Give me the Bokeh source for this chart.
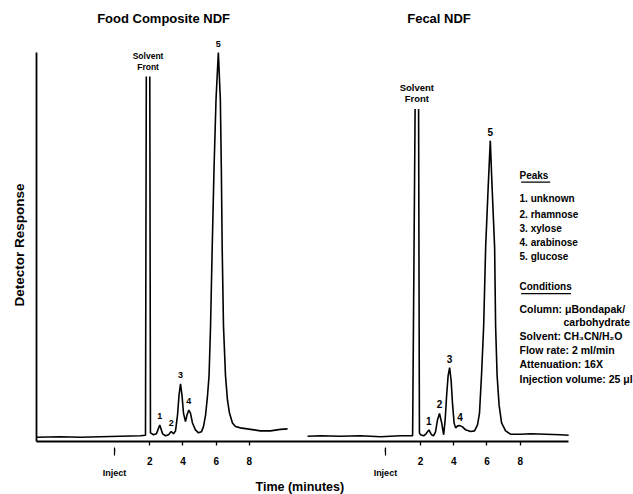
import math
from bokeh.plotting import figure
from bokeh.models import (Range1d, FixedTicker, Arrow, NormalHead, CustomJSTickFormatter,
                          LinearAxis, Title)
from bokeh.core.properties import value
from bokeh.embed import file_html
from bokeh.resources import INLINE

nan = float("nan")
FONT = "Liberation Sans"

# ---------------- data (time in minutes, detector response in arbitrary units) -------------
TITLES = ["Food Composite NDF", "Fecal NDF"]
TITLE_T = [2.83, 3.11]

LEFT_T = [-4.82, -3.38, -2.17, -0.97, 0.24, 1.44, 1.74, 1.79, nan, 2.00, 2.04,
          2.22, 2.40, 2.60, 2.77, 2.95, 3.13, 3.29, 3.43, 3.55, 3.67, 3.76, 3.85, 3.94,
          4.03, 4.15, 4.24, 4.35, 4.45, 4.57, 4.75, 4.93,
          5.11, 5.23, 5.36, 5.48, 5.57, 5.66, 5.76, 5.87, 5.99, 6.13,
          6.25, 6.31, 6.36, 6.44, 6.56, 6.68, 6.80, 6.98, 7.16, 7.46, 8.07, 8.67, 9.27, 9.87, 10.30]
LEFT_R = [-0.5, 0, -0.5, 0, 0.5, 1, 1.5, 365, nan, 365, 4,
          2, 3, 12, 3, 1, 2, 5.3, 3, 6, 22, 42, 53.7, 42,
          24, 15.3, 22, 27, 24, 14, 7, 4,
          5, 10, 22, 42, 62, 112, 192, 272, 342, 389.3,
          342, 272, 192, 112, 62, 37, 24, 14, 10.3, 9, 7.5, 6, 6, 7.5, 8]

RIGHT_T = [-4.81, -4.02, -2.82, -1.61, -0.41, 0.80, 1.52, 1.67, nan, 1.88, 1.93,
           2.00, 2.18, 2.33, 2.50, 2.66, 2.78, 2.90, 3.02,
           3.14, 3.27, 3.39, 3.48, 3.57, 3.66, 3.75, 3.84, 3.93, 4.02,
           4.11, 4.23, 4.37, 4.53, 4.71, 5.01, 5.25, 5.43, 5.55, 5.67,
           5.80, 5.92, 6.07, 6.20, 6.31, 6.46, 6.52, 6.61, 6.73, 6.88,
           7.12, 7.42, 8.02, 8.63, 9.53, 10.43, 10.92]
RIGHT_R = [0.5, 1, 0.5, 1, 0, 1, 1, 332, nan, 332, 4,
           2, 1, 3, 7, 2, 1, 5, 17,
           23.7, 14, 2, 17, 42, 62, 70, 57, 32, 14,
           9, 11, 11.3, 10, 7, 5.3, 6, 12, 24, 62,
           112, 192, 252, 300, 252, 192, 112, 62, 32, 14,
           6, 2.7, 2.5, 3, 2.5, 2, 1.5]

PEAK_NUMS = ["1", "2", "3", "4", "5"]
LEFT_PEAK_T = [2.60, 3.29, 3.85, 4.35, 6.13]
LEFT_PEAK_R = [12, 5.3, 53.7, 27, 389.3]
RIGHT_PEAK_T = [2.50, 3.14, 3.75, 4.37, 6.20]
RIGHT_PEAK_R = [7, 23.7, 70, 11.3, 300]

SOLVENT_T = [1.895, 1.775]      # solvent front (left, right panel)
SOLVENT_TOP = [365, 332]        # pen limit of solvent front
INJECT_T = -0.12                # injection mark
TICKS = [2, 4, 6, 8]

PEAK_NAMES = ["1. unknown", "2. rhamnose", "3. xylose", "4. arabinose", "5. glucose"]
CONDITIONS = ["Column: \u03bcBondapak/", "carbohydrate", "Solvent: CH\u2083CN/H\u2082O",
              "Flow rate: 2 ml/min", "Attenuation: 16X", "Injection volume: 25 \u03bcl"]

# ---------------- layout constants ----------------
PANEL_OFFSET = 16.3125          # horizontal shift of the second chromatogram (min)
X0, X1 = -4.825, 31.139
Y0, Y1 = -4.8, 442
AXIS_END = 27.22
YAXIS_TOP = 389

p = figure(width=633, height=494, output_backend="svg", toolbar_location=None,
           x_range=Range1d(X0, X1), y_range=Range1d(Y0, Y1),
           min_border_left=36, min_border_right=0, min_border_top=0, min_border_bottom=0)
p.grid.visible = False
p.outline_line_color = None
p.background_fill_color = "white"
p.border_fill_color = "white"

inject_x = [INJECT_T, INJECT_T + PANEL_OFFSET]

# main time axis (ticks 2..8 for each chromatogram; minor ticks = inject arrow shafts)
xa = p.xaxis[0]
xa.ticker = FixedTicker(ticks=TICKS + [t + PANEL_OFFSET for t in TICKS], minor_ticks=inject_x)
xa.formatter = CustomJSTickFormatter(args=dict(off=PANEL_OFFSET),
                                     code="const t = tick > off ? tick - off : tick; return t.toFixed(0);")
xa.bounds = (X0, AXIS_END)
xa.axis_line_width = 1.8
xa.axis_line_color = "black"
xa.major_tick_line_width = 1.3
xa.major_tick_line_color = "black"
xa.major_tick_out = 4
xa.major_tick_in = 0
xa.minor_tick_line_color = "black"
xa.minor_tick_line_width = 1.2
xa.minor_tick_in = -6
xa.minor_tick_out = 14
xa.major_label_standoff = 1
xa.major_label_text_color = "black"
xa.major_label_text_font = FONT
xa.major_label_text_font_style = "bold"
xa.major_label_text_font_size = "10px"

# second row of labels: "Inject"
ia = LinearAxis(ticker=FixedTicker(ticks=inject_x, minor_ticks=[]),
                formatter=CustomJSTickFormatter(code="return 'Inject';"),
                axis_line_color=None, major_tick_line_color=None, minor_tick_line_color=None,
                major_tick_out=0, major_tick_in=0,
                minor_tick_out=0, minor_tick_in=0, major_label_standoff=0,
                major_label_text_color="black", major_label_text_font=FONT,
                major_label_text_font_style="bold", major_label_text_font_size="9px")
p.add_layout(ia, "below")
p.add_layout(Title(text="Time (minutes)", align="left", offset=219, standoff=-2,
                   vertical_align="top",
                   text_font=FONT, text_font_style="bold", text_font_size="12.5px",
                   text_color="black"), "below")

ya = p.yaxis[0]
ya.ticker = FixedTicker(ticks=[], minor_ticks=[])
ya.bounds = (Y0, YAXIS_TOP)
ya.axis_line_width = 1.8
ya.axis_line_color = "black"
ya.major_tick_out = 0
ya.major_tick_in = 0
ya.minor_tick_out = 0
ya.minor_tick_in = 0
ya.major_label_standoff = 0
p.add_layout(Title(text="Detector Response", align="left", offset=135, standoff=16,
                   vertical_align="top",
                   text_font=FONT, text_font_style="bold", text_font_size="13.5px",
                   text_color="black"), "left")

# chromatograms
p.line(LEFT_T, LEFT_R, line_color="black", line_width=1.6)
p.line([t + PANEL_OFFSET for t in RIGHT_T], RIGHT_R, line_color="black", line_width=1.6)

txt = dict(text_font=value(FONT), text_font_style="bold", text_color="black",
           text_align="center", text_baseline="middle")

# titles
p.text(x=[TITLE_T[0], TITLE_T[1] + PANEL_OFFSET], y=[424, 424], text=TITLES,
       text_font_size="13px", **txt)

# peak numbers
p.text(x=LEFT_PEAK_T, y=[r + 9 for r in LEFT_PEAK_R], text=PEAK_NUMS, text_font_size="9px", **txt)
p.text(x=[t + PANEL_OFFSET for t in RIGHT_PEAK_T], y=[r + 9 for r in RIGHT_PEAK_R],
       text=PEAK_NUMS, text_font_size="10px", **txt)

# solvent front labels
p.text(x=[SOLVENT_T[0]] * 2, y=[SOLVENT_TOP[0] + 21, SOLVENT_TOP[0] + 10],
       text=["Solvent", "Front"], text_font_size="8.5px", **txt)
p.text(x=[SOLVENT_T[1] + PANEL_OFFSET] * 2, y=[SOLVENT_TOP[1] + 22, SOLVENT_TOP[1] + 11],
       text=["Solvent", "Front"], text_font_size="9.5px", **txt)

# inject arrow heads (shafts are the minor ticks of the time axis)
for xi in inject_x:
    p.add_layout(Arrow(end=NormalHead(size=4, line_color="black", fill_color="black"),
                       x_start=xi, y_start=-18, x_end=xi, y_end=-12,
                       line_width=1.2, line_color="black"))

# peak legend and conditions
LEG_T = 7.96 + PANEL_OFFSET
left_txt = dict(txt, text_align="left")
p.text(x=[LEG_T], y=[265], text=["Peaks"], text_font_size="10px", **left_txt)
p.segment(x0=[LEG_T + 0.1], y0=[258], x1=[LEG_T + 1.85], y1=[258], line_color="black", line_width=1.3)
p.text(x=[LEG_T] * 5, y=[241.3, 225.3, 211.3, 197, 182.7], text=PEAK_NAMES,
       text_font_size="10px", **left_txt)
p.text(x=[LEG_T], y=[152], text=["Conditions"], text_font_size="10px", **left_txt)
p.segment(x0=[LEG_T + 0.1], y0=[145], x1=[LEG_T + 3.1], y1=[145], line_color="black", line_width=1.3)
p.text(x=[LEG_T, 10.61 + PANEL_OFFSET, LEG_T, LEG_T, LEG_T, LEG_T],
       y=[129.3, 116, 102, 88, 73.7, 58.7], text=CONDITIONS,
       text_font_size="10.5px", **left_txt)

open("out.html", "w").write(file_html(p, INLINE))
